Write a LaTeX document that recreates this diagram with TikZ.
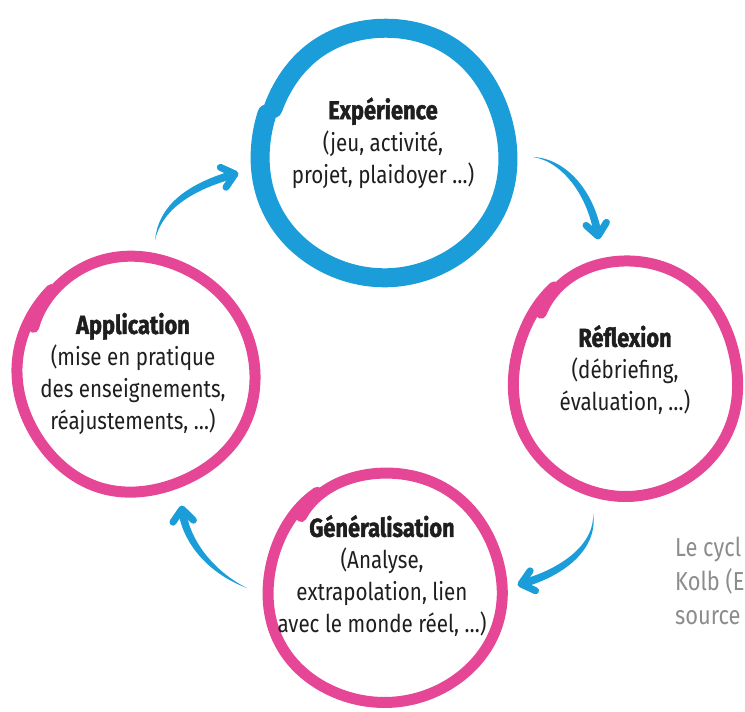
\documentclass[tikz,border=0pt]{standalone}
\usepackage{fontspec}
\setmainfont{Fira Sans}[FakeStretch=0.84, BoldFeatures={FakeBold=1.5}]
\usetikzlibrary{calc}
\definecolor{cblue}{RGB}{26,157,216}
\definecolor{cpink}{RGB}{229,71,150}
\definecolor{ctext}{RGB}{30,30,30}
\definecolor{cgrey}{RGB}{140,140,140}
\newcommand\stagetitle[1]{{\fontsize{26}{32}\selectfont\bfseries #1}}
% tapered brush arrow: tail, control 1, control 2, head
\newcommand\brusharrow[4]{%
  \fill[cblue] (#1) .. controls ($(#2)!2.5pt!90:(#3)$) and ($(#3)!4pt!-90:(#2)$) ..
    ($(#4)!4pt!-90:(#3)$) -- ($(#4)!4pt!90:(#3)$)
    .. controls ($(#3)!4pt!90:(#2)$) and ($(#2)!2.5pt!-90:(#3)$) .. (#1) -- cycle;
  \draw[barb] ($(#4)!16pt!40:(#3)$) -- (#4) -- ($(#4)!16pt!-40:(#3)$);
}
\begin{document}
\begin{tikzpicture}[x=1pt,y=-1pt,
  stage/.style={font=\fontsize{24.5}{32}\selectfont, align=center, text=ctext, inner sep=0pt},
  note/.style={font=\fontsize{26}{34}\selectfont, align=left, text=cgrey, inner sep=0pt, anchor=west},
  barb/.style={cblue, line width=7pt, line cap=round, line join=round},
  pinkring/.style={cpink, line width=11pt, line cap=round, line join=round},
  bluering/.style={cblue, line width=19pt, line cap=round, line join=round}]
\useasboundingbox (0,0) rectangle (745,712);
\clip (0,0) rectangle (745,712);

% rings
\draw[bluering] plot[smooth, samples=100, domain=200:557, variable=\q]
  ({385 + (121 + 4*(\q-200)/357 + 2*sin(3*\q))*cos(\q)}, {152 + (125 + 4*(\q-200)/357 + 2*cos(2*\q))*sin(\q)});
\draw[pinkring] plot[smooth, samples=100, domain=215:590, variable=\q]
  ({625.5 + (112 - 7*exp(-(\q-215)/20) + 2*sin(3*\q))*cos(\q)}, {378.5 + (120 - 7*exp(-(\q-215)/20) + 2*cos(2*\q))*sin(\q)});
\draw[pinkring] plot[smooth, samples=100, domain=205:585, variable=\q]
  ({136 + (118 - 7*exp(-(\q-205)/20) + 2*sin(2*\q+30))*cos(\q)}, {374 + (118 - 7*exp(-(\q-205)/20) + 2*cos(3*\q))*sin(\q)});
\draw[pinkring] plot[smooth, samples=100, domain=220:595, variable=\q]
  ({384.5 + (117 - 7*exp(-(\q-220)/20) + 2*sin(3*\q+20))*cos(\q)}, {587.5 + (117 - 7*exp(-(\q-220)/20) + 2*cos(2*\q))*sin(\q)});

% labels
\node[stage] (exp) at (383,143) {\stagetitle{Expérience}\\(jeu, activité,\\projet, plaidoyer …)};
\node[stage] (ref) at (625,370) {\stagetitle{Réflexion}\\(débriefing,\\évaluation, …)};
\node[stage] (app) at (133,374) {\stagetitle{Application}\\(mise en pratique\\des enseignements,\\réajustements, …)};
\node[stage] (gen) at (382,576) {\stagetitle{Généralisation}\\(Analyse,\\extrapolation, lien\\avec le monde réel, …)};

% arrows
\coordinate (a1t) at (155,240); \coordinate (a1a) at (160,210); \coordinate (a1b) at (185,188); \coordinate (a1h) at (235,174);
\coordinate (a2t) at (533,157); \coordinate (a2a) at (565,160); \coordinate (a2b) at (592,195); \coordinate (a2h) at (598,236);
\coordinate (a3t) at (593,513); \coordinate (a3a) at (597,545); \coordinate (a3b) at (565,572); \coordinate (a3h) at (521,584);
\coordinate (a4t) at (247,588); \coordinate (a4a) at (210,572); \coordinate (a4b) at (185,540); \coordinate (a4h) at (182,509);
\brusharrow{a1t}{a1a}{a1b}{a1h}
\brusharrow{a2t}{a2a}{a2b}{a2h}
\brusharrow{a3t}{a3a}{a3b}{a3h}
\brusharrow{a4t}{a4a}{a4b}{a4h}

% cut-off caption
\node[note] (cap) at (675,581) {Le cycl\\Kolb (E\\source};
\end{tikzpicture}
\end{document}
